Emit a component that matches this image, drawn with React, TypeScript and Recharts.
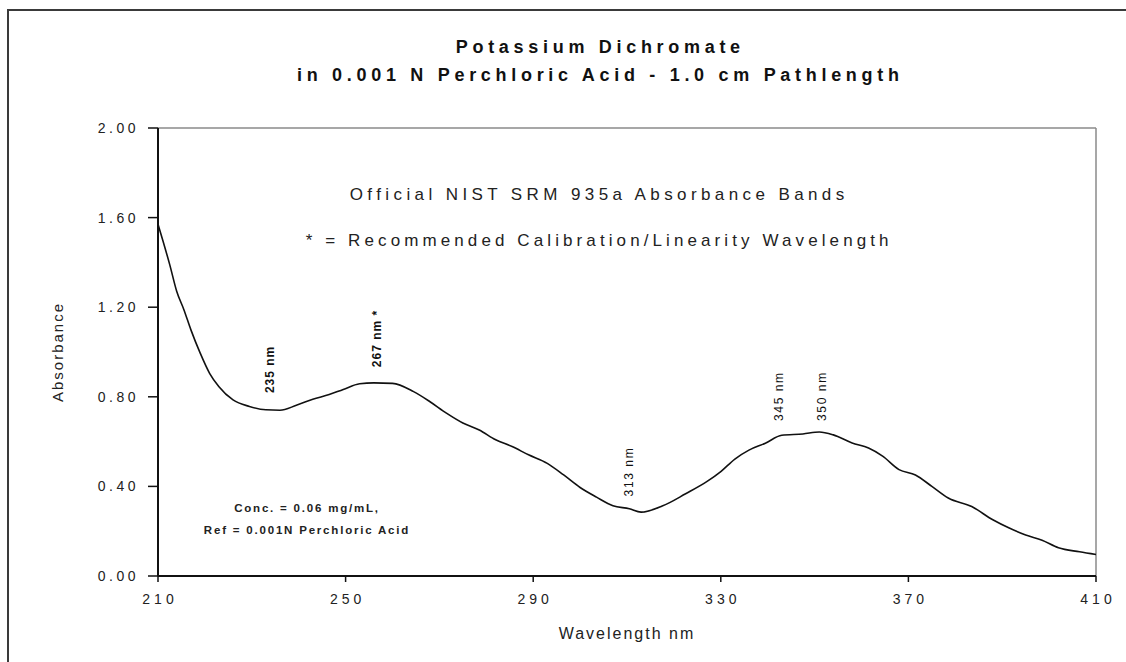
import React from 'react';
import { LineChart, Line, XAxis, YAxis, ReferenceLine, ReferenceDot, Customized, Label } from 'recharts';

// absorbance spectrum, nm vs A
const wavelengths = [
  210, 211, 212.5, 214, 215.5, 217, 219, 221, 223, 226, 229.5, 233, 236, 239.5, 243, 246.5, 249.5,
  253, 256, 260, 264.5, 268, 271.5, 275, 278.5, 282, 285.5, 289, 293, 296.5, 300, 303.5, 307, 310.5,
  313, 317.5, 322.5, 327, 330, 333, 336, 339.5, 343, 347.5, 351, 354, 358, 361.5, 364.5, 368, 371.5,
  375, 378.5, 383.5, 388, 391.5, 395, 398.5, 402, 406.5, 410,
];
const absorbance = [
  1.57, 1.5, 1.39, 1.27, 1.19, 1.1, 0.995, 0.905, 0.845, 0.786, 0.757, 0.742, 0.74, 0.762, 0.789, 0.81, 0.833,
  0.858, 0.862, 0.86, 0.823, 0.778, 0.727, 0.683, 0.652, 0.608, 0.578, 0.541, 0.503, 0.451, 0.395, 0.352, 0.314, 0.3,
  0.285, 0.312, 0.367, 0.421, 0.466, 0.522, 0.562, 0.593, 0.628, 0.634, 0.643, 0.63, 0.594, 0.571, 0.535, 0.475, 0.451,
  0.4, 0.348, 0.31, 0.251, 0.214, 0.183, 0.16, 0.126, 0.108, 0.096,
];

const xTicks = [210, 250, 290, 330, 370, 410];
const yTicks = [0, 0.4, 0.8, 1.2, 1.6, 2.0];

// band annotations (vertical text), anchored in data coordinates
const bandLabels = ['235 nm', '267 nm *', '313 nm', '345 nm', '350 nm'];
const bandWl = [233.96, 256.65, 310.53, 342.48, 351.64];
const bandAbs = [0.92, 1.058, 0.464, 0.801, 0.801];
const boldBands = ['235 nm', '267 nm *'];

const titleLines = ['Potassium Dichromate', 'in 0.001 N Perchloric Acid - 1.0 cm Pathlength'];
const noteLines = ['Official NIST SRM 935a Absorbance Bands', '* = Recommended Calibration/Linearity Wavelength'];
const concLines = ['Conc. = 0.06 mg/mL,', 'Ref = 0.001N Perchloric Acid'];

const data = wavelengths.map((wl, i) => ({ wl, a: absorbance[i] }));

const FONT = '"Liberation Sans", Arial, sans-serif';

const Texts = () => (
  <g fontFamily={FONT} fill="#111">
    <text x={598} y={53} textAnchor="middle" dx={2.3} fontSize={18} fontWeight="bold" letterSpacing={4.7}>{titleLines[0]}</text>
    <text x={598} y={81} textAnchor="middle" dx={2.3} fontSize={18} fontWeight="bold" letterSpacing={4.7}>{titleLines[1]}</text>
    <text x={597} y={200} textAnchor="middle" dx={2.2} fontSize={17} letterSpacing={4.4} fill="#222">{noteLines[0]}</text>
    <text x={597} y={246} textAnchor="middle" dx={2.2} fontSize={17} letterSpacing={4.1} fill="#222">{noteLines[1]}</text>
    <text x={306} y={512} textAnchor="middle" dx={1} fontSize={11.5} fontWeight="bold" letterSpacing={1.8} fill="#222">{concLines[0]}</text>
    <text x={306} y={534} textAnchor="middle" dx={1} fontSize={11.5} fontWeight="bold" letterSpacing={1.8} fill="#222">{concLines[1]}</text>
  </g>
);

const BandText = (props: any) => {
  const { cx, cy, text } = props;
  return (
    <text
      x={cx}
      y={cy}
      dx={0.5}
      transform={`rotate(-90 ${cx} ${cy})`}
      textAnchor="middle"
      dominantBaseline="central"
      fontFamily={FONT}
      fontSize={12}
      fontWeight={boldBands.includes(text) ? 'bold' : 'normal'}
      letterSpacing={boldBands.includes(text) ? 1 : 1.6}
      fill="#111"
    >
      {text}
    </text>
  );
};

export default function App() {
  return (
    <div style={{ position: 'absolute', left: 0, top: 0, width: 1126, height: 662, background: '#fff' }}>
      <div
        style={{
          position: 'absolute',
          left: 7,
          top: 9,
          width: 1119,
          height: 653,
          borderLeft: '2px solid #3a3a3a',
          borderTop: '2px solid #3a3a3a',
          boxSizing: 'border-box',
        }}
      />
      <div style={{ position: 'absolute', left: 0, top: 0 }}>
        <LineChart width={1126} height={662} data={data} margin={{ top: 128, right: 30, bottom: 56, left: 98 }}>
          <XAxis
            dataKey="wl"
            type="number"
            domain={[210, 410]}
            ticks={xTicks}
            height={30}
            axisLine={{ stroke: '#111', strokeWidth: 2 }}
            tickLine={{ stroke: '#111', strokeWidth: 1.5 }}
            tickSize={6}
            tickMargin={12}
            tick={{ fill: '#222', fontSize: 14, fontFamily: FONT, letterSpacing: 4, dx: 2 }}
          >
            <Label
              value="Wavelength nm"
              position="bottom"
              offset={22}
              style={{ fontSize: 16, fontFamily: FONT, letterSpacing: 2, fill: '#222' }}
            />
          </XAxis>
          <YAxis
            type="number"
            domain={[0, 2]}
            ticks={yTicks}
            width={60}
            tickFormatter={(v: number) => v.toFixed(2)}
            axisLine={{ stroke: '#111', strokeWidth: 2 }}
            tickLine={{ stroke: '#111', strokeWidth: 1.5 }}
            tickSize={10}
            tickMargin={9}
            tick={{ fill: '#222', fontSize: 14, fontFamily: FONT, letterSpacing: 3.5 }}
          >
            <Label
              value="Absorbance"
              angle={-90}
              position="left"
              offset={40}
              style={{ fontSize: 15, fontFamily: FONT, letterSpacing: 2, fill: '#222', textAnchor: 'middle' }}
            />
          </YAxis>
          <ReferenceLine y={2} stroke="#8a8a8a" strokeWidth={1.5} />
          <ReferenceLine x={410} stroke="#8a8a8a" strokeWidth={1.5} />
          <Line
            type="monotone"
            dataKey="a"
            stroke="#111"
            strokeWidth={1.6}
            dot={false}
            isAnimationActive={false}
          />
          {bandLabels.map((t, i) => (
            <ReferenceDot
              key={t}
              x={bandWl[i]}
              y={bandAbs[i]}
              r={1}
              shape={(p: any) => <BandText cx={p.cx} cy={p.cy} text={t} />}
            />
          ))}
          <Customized component={Texts} />
        </LineChart>
      </div>
    </div>
  );
}
